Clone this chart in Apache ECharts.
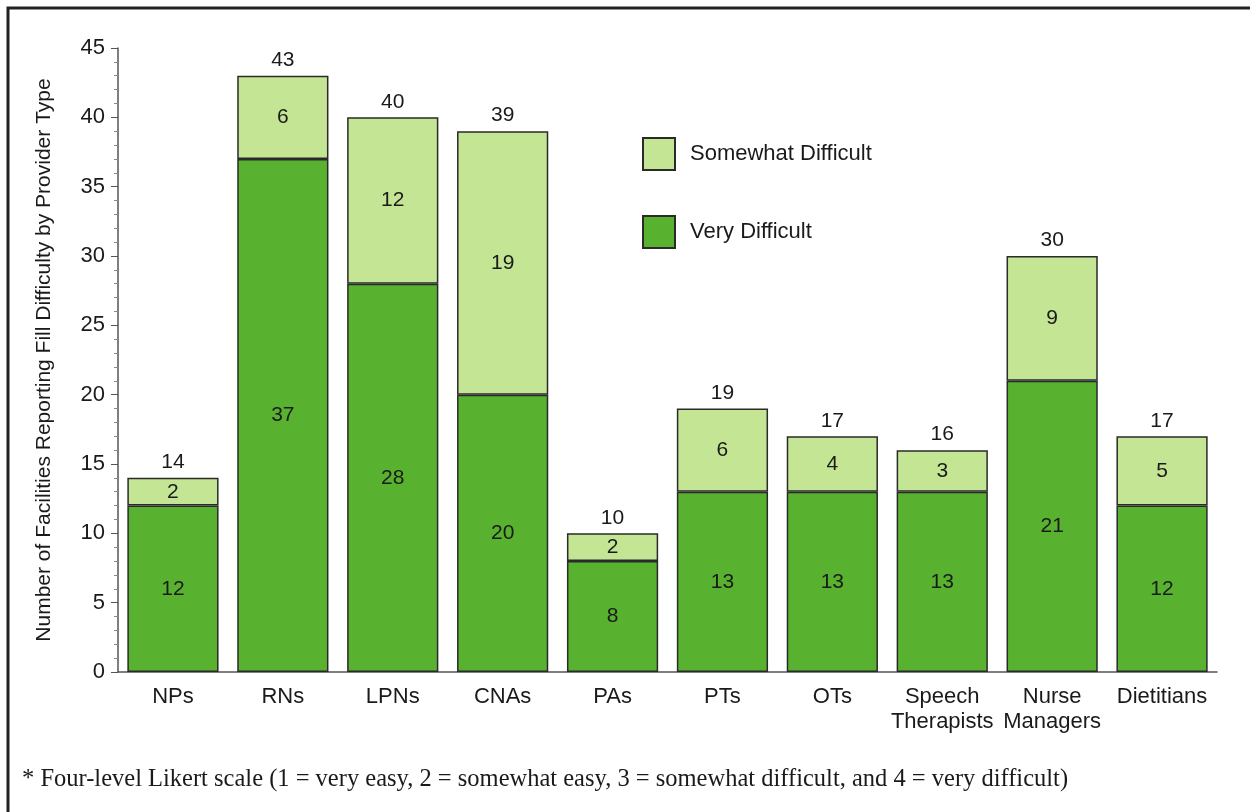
<!DOCTYPE html>
<html>
<head>
<meta charset="utf-8">
<script src="https://cdn.jsdelivr.net/npm/echarts@6/dist/echarts.min.js"></script>
<style>
html,body{margin:0;padding:0;background:#fff;}
#chart{width:1250px;height:812px;}
</style>
</head>
<body>
<div id="chart"></div>
<script>
var categories = ['NPs', 'RNs', 'LPNs', 'CNAs', 'PAs', 'PTs', 'OTs', 'Speech\nTherapists', 'Nurse\nManagers', 'Dietitians'];
var veryDifficult = [12, 37, 28, 20, 8, 13, 13, 13, 21, 12];
var somewhatDifficult = [2, 6, 12, 19, 2, 6, 4, 3, 9, 5];
var totals = [14, 43, 40, 39, 10, 19, 17, 16, 30, 17];
var yTicks = { min: 0, max: 45, interval: 5 };
var yAxisTitle = 'Number of Facilities Reporting Fill Difficulty by Provider Type';
var footnote = '* Four-level Likert scale (1 = very easy, 2 = somewhat easy, 3 = somewhat difficult, and 4 = very difficult)';

var FONT = 'Liberation Sans, Arial, sans-serif';
var chart = echarts.init(document.getElementById('chart'), null, { renderer: 'canvas' });

var borderStyle = { borderColor: '#2a2a2a', borderWidth: 1.5 };

chart.setOption({
  animation: false,
  backgroundColor: '#ffffff',
  textStyle: { fontFamily: FONT },
  grid: { left: 118, right: 33, top: 48, bottom: 140 },
  legend: {
    orient: 'vertical',
    left: 642,
    top: 137,
    padding: 0,
    itemWidth: 32,
    itemHeight: 32,
    itemGap: 44,
    icon: 'rect',
    data: ['Somewhat Difficult', 'Very Difficult'],
    textStyle: { fontSize: 22, color: '#1a1a1a', fontFamily: FONT, padding: [0, 0, 0, 10] }
  },
  xAxis: {
    type: 'category',
    data: categories,
    axisLine: { show: true, lineStyle: { color: '#555', width: 1.5 } },
    axisTick: { show: false },
    axisLabel: { fontSize: 22, color: '#1a1a1a', margin: 12, lineHeight: 25, fontFamily: FONT, interval: 0 }
  },
  yAxis: {
    type: 'value',
    min: yTicks.min,
    max: yTicks.max,
    interval: yTicks.interval,
    name: yAxisTitle,
    nameLocation: 'middle',
    nameGap: 63,
    nameTextStyle: { fontSize: 21, color: '#1a1a1a', fontFamily: FONT },
    axisLine: { show: true, lineStyle: { color: '#555', width: 1.5 } },
    axisTick: { show: true, inside: false, length: 7, lineStyle: { color: '#555' } },
    minorTick: { show: true, splitNumber: 5, length: 4, lineStyle: { color: '#888' } },
    splitLine: { show: false },
    axisLabel: { fontSize: 22, color: '#1a1a1a', margin: 13, fontFamily: FONT }
  },
  series: [
    {
      name: 'Very Difficult',
      type: 'bar',
      stack: 'total',
      barCategoryGap: '17%',
      data: veryDifficult,
      itemStyle: Object.assign({ color: '#58b12f' }, borderStyle),
      label: { show: true, position: 'inside', fontSize: 21, color: '#1a1a1a', fontFamily: FONT }
    },
    {
      name: 'Somewhat Difficult',
      type: 'bar',
      stack: 'total',
      data: somewhatDifficult,
      itemStyle: Object.assign({ color: '#c3e594' }, borderStyle),
      label: { show: true, position: 'inside', fontSize: 21, color: '#1a1a1a', fontFamily: FONT }
    },
    {
      name: 'Total',
      type: 'bar',
      stack: 'total',
      data: totals.map(function () { return 0; }),
      itemStyle: { color: 'rgba(0,0,0,0)', borderWidth: 0 },
      label: {
        show: true, position: 'top', distance: 5, fontSize: 21, color: '#1a1a1a', fontFamily: FONT,
        formatter: function (p) { return totals[p.dataIndex]; }
      },
      silent: true
    }
  ],
  graphic: [
    {
      type: 'rect',
      shape: { x: 8, y: 8, width: 1400, height: 1000 },
      style: { fill: 'none', stroke: '#222', lineWidth: 3 },
      silent: true
    },
    {
      type: 'text',
      left: 22,
      top: 767,
      style: { text: footnote, font: '24.5px "Liberation Serif", "Times New Roman", serif', fill: '#1a1a1a' }
    }
  ]
});
</script>
</body>
</html>
